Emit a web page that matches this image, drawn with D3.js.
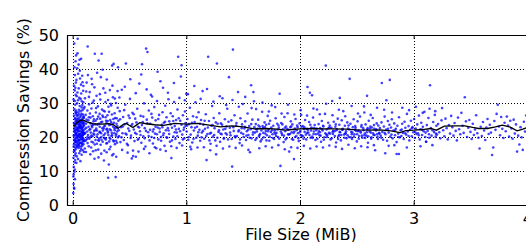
<!DOCTYPE html>
<html>
<head>
<meta charset="utf-8">
<script src="https://cdn.jsdelivr.net/npm/d3@7"></script>
<style>
  body { margin: 0; background: #fff; }
  text { font-family: "DejaVu Sans", sans-serif; fill: #000; }
</style>
</head>
<body>
<div id="chart"></div>
<script>
// axis ticks
const xTicks = [0, 1, 2, 3, 4];
const yTicks = [0, 10, 20, 30, 40, 50];

// scatter: [file size MiB, savings %], grouped by size range
const tinyFiles = [[0.005,3.5],[0.008,6.2],[0.012,5.1],[0.006,8.4],[0.015,9.8],[0.01,11.2],[0.02,7.6],[0.018,12.5],[0.007,13.9],[0.022,14.6],[0.012,15.8],[0.026,16.4],[0.009,17.1],[0.017,18.3],[0.024,19.0],[0.028,17.6],[0.013,20.2],[0.021,21.4],[0.03,19.8],[0.016,22.7],[0.025,23.5],[0.011,24.1],[0.029,22.0],[0.019,25.6],[0.027,26.9],[0.014,28.2],[0.023,29.5],[0.008,31.0],[0.026,32.4],[0.018,33.7],[0.012,35.1],[0.028,36.0],[0.02,38.2],[0.015,40.5],[0.025,42.3],[0.014,47.5],[0.03,44.0],[0.019,30.6],[0.024,27.4],[0.01,20.5],[0.029,21.1],[0.022,18.7],[0.016,16.0],[0.027,24.6],[0.013,26.3],[0.021,13.2],[0.018,10.4],[0.009,9.0],[0.028,23.0],[0.025,20.6],[0.017,22.3],[0.03,27.8],[0.012,19.1],[0.023,34.5],[0.02,21.9],[0.026,15.2],[0.014,4.8],
  [0.032,18.5],[0.035,21.2],[0.038,24.8],[0.041,19.6],[0.044,48.9],[0.046,22.4],[0.049,27.3],[0.052,16.8],[0.055,20.1],[0.058,31.5],[0.061,23.6],[0.064,18.2],[0.067,25.9],[0.07,21.0],[0.073,35.4],[0.076,19.4],[0.079,28.7],[0.082,22.3],[0.085,17.5],[0.088,24.2],[0.091,20.7],[0.094,30.2],[0.097,26.0],[0.1,19.0],
  [0.033,36.8],[0.036,14.3],[0.039,29.9],[0.042,33.1],[0.045,17.7],[0.048,38.6],[0.051,23.0],[0.054,26.7],[0.057,20.9],[0.06,42.7],[0.063,21.8],[0.066,15.9],[0.069,27.6],[0.072,22.9],[0.075,32.8],[0.078,18.1],[0.081,25.3],[0.084,20.4],[0.087,36.1],[0.09,22.8],[0.093,18.9],[0.096,24.7],[0.099,28.4],
  [0.034,25.4],[0.037,19.9],[0.04,40.2],[0.043,22.1],[0.047,30.8],[0.05,18.7],[0.053,34.3],[0.056,24.0],[0.059,19.2],[0.062,29.1],[0.065,37.2],[0.068,20.6],[0.071,26.3],[0.074,16.5],[0.077,23.8],[0.08,30.5],[0.083,21.5],[0.086,27.9],[0.089,19.7],[0.092,33.6],[0.095,21.3],[0.098,25.6],
  [0.031,27.1],[0.036,32.0],[0.04,22.6],[0.045,25.1],[0.05,20.3],[0.055,28.0],[0.06,17.2],[0.065,22.5],[0.07,31.2],[0.075,20.0],[0.08,24.5],[0.085,29.4],[0.09,26.6],[0.095,17.9],[0.1,23.3],
  [0.033,12.4],[0.042,44.6],[0.047,13.5],[0.052,41.3],[0.058,15.2],[0.063,39.5],[0.068,12.9],[0.074,43.0],[0.079,14.8],[0.084,38.0],[0.089,16.1],[0.094,35.0],[0.099,15.6],
  [0.035,23.9],[0.043,26.2],[0.051,21.7],[0.057,24.4],[0.064,20.8],[0.071,23.4],[0.077,26.8],[0.083,19.3],[0.091,22.0],[0.097,21.1],[0.038,17.0],[0.046,19.1],[0.054,22.9],[0.062,25.0],[0.07,18.4],[0.078,21.6],[0.086,23.1],[0.093,25.8],[0.039,20.5],[0.053,18.0],[0.066,24.3],[0.081,20.2],[0.095,19.5],
  [0.011,17.8],[0.019,19.5],[0.027,20.9],[0.034,22.2],[0.041,17.4],[0.048,21.6],[0.056,19.0],[0.063,23.2],[0.071,20.1],[0.079,22.6],[0.087,18.6],[0.094,21.9],[0.015,23.8],[0.023,16.9],[0.031,24.5],[0.039,18.3],[0.047,23.7],[0.055,17.6],[0.061,20.7],[0.069,24.9],[0.076,17.2],[0.084,21.3],[0.092,24.0],[0.099,20.9],[0.013,21.6],[0.021,25.2],[0.029,18.9],[0.037,26.4],[0.044,20.4],[0.052,25.5],[0.059,22.8],[0.067,19.3],[0.074,24.6],[0.082,18.0],[0.09,20.6],[0.097,23.5]];

const smallFiles = [[0.102,24.1],[0.105,18.8],[0.108,31.4],[0.111,21.2],[0.114,26.5],[0.117,15.6],[0.12,22.7],[0.123,36.0],[0.126,19.4],[0.129,27.8],[0.132,46.6],[0.135,20.6],[0.138,24.9],[0.141,17.3],[0.144,29.6],[0.147,22.1],[0.15,33.2],[0.153,19.9],[0.156,25.7],[0.159,21.3],[0.162,16.9],[0.165,28.4],[0.168,23.3],[0.171,35.5],[0.174,20.2],[0.177,26.1],[0.18,18.4],[0.183,24.6],[0.186,30.7],[0.189,21.8],[0.192,13.6],[0.195,44.5],[0.198,23.7],[0.201,19.1],[0.204,27.2],[0.207,22.5],[0.21,32.1],[0.213,18.0],[0.216,25.3],[0.219,20.8],[0.222,29.0],[0.225,16.3],[0.228,42.5],[0.231,23.9],[0.234,19.6],[0.237,26.8],[0.24,21.5],[0.243,31.0],[0.246,17.7],[0.249,24.3],[0.252,20.0],[0.255,44.5],[0.258,28.1],[0.261,22.6],[0.264,18.6],[0.267,25.9],[0.27,34.3],[0.273,20.5],[0.276,23.1],[0.279,16.0],[0.282,27.5],[0.285,21.0],[0.288,30.3],[0.291,19.3],[0.294,24.8],[0.297,22.2],[0.3,36.9],[0.303,18.2],[0.306,26.4],[0.309,21.7],[0.312,8.0],[0.315,28.9],[0.318,11.9],[0.321,23.5],[0.324,19.8],[0.327,33.8],[0.33,25.0],[0.333,17.1],[0.336,22.0],[0.339,29.3],[0.342,20.3],[0.345,26.6],[0.348,14.6],[0.351,23.8],[0.354,31.7],[0.357,19.0],[0.36,41.5],[0.363,24.2],[0.366,21.1],[0.369,27.0],[0.372,17.9],[0.375,22.8],[0.378,8.2],[0.381,30.0],[0.384,20.9],[0.387,25.5],[0.39,18.3],[0.393,23.2],[0.396,28.6],[0.399,40.5],
  [0.104,28.8],[0.11,22.4],[0.116,19.0],[0.122,25.1],[0.128,21.6],[0.134,38.2],[0.14,23.0],[0.146,19.5],[0.152,26.9],[0.158,24.0],[0.164,20.4],[0.17,22.9],[0.176,30.1],[0.182,21.0],[0.188,25.2],[0.194,17.8],[0.2,22.0],[0.206,28.5],[0.212,20.1],[0.218,23.6],[0.224,26.0],[0.23,18.9],[0.236,21.4],[0.242,25.4],[0.248,37.6],[0.254,19.2],[0.26,24.5],[0.266,21.9],[0.272,27.7],[0.278,19.7],[0.284,23.3],[0.29,25.8],[0.296,18.1],[0.302,22.4],[0.308,24.7],[0.314,20.6],[0.32,27.4],[0.326,22.3],[0.332,19.4],[0.338,24.4],[0.344,21.2],[0.35,35.1],[0.356,23.0],[0.362,18.7],[0.368,22.5],[0.374,25.6],[0.38,20.4],[0.386,23.9],[0.392,21.6],[0.398,19.9],
  [0.107,16.6],[0.119,33.4],[0.131,18.2],[0.143,31.8],[0.155,14.9],[0.167,37.1],[0.179,15.8],[0.191,34.6],[0.203,16.1],[0.215,38.9],[0.227,14.0],[0.239,32.6],[0.251,15.1],[0.263,39.8],[0.275,13.1],[0.287,33.0],[0.299,15.5],[0.311,30.9],[0.323,16.4],[0.335,29.8],[0.347,41.0],[0.359,15.0],[0.371,31.3],[0.383,14.2],[0.395,33.5],
  [0.106,21.0],[0.118,23.9],[0.13,20.0],[0.142,25.8],[0.154,22.3],[0.166,18.6],[0.178,23.5],[0.19,20.7],[0.202,24.8],[0.214,21.9],[0.226,19.1],[0.238,23.0],[0.25,21.1],[0.262,26.3],[0.274,22.5],[0.286,19.6],[0.298,24.1],[0.31,21.3],[0.322,18.7],[0.334,23.6],[0.346,20.5],[0.358,25.3],[0.37,22.0],[0.382,18.9],[0.394,22.6],
  [0.402,24.8],[0.408,20.3],[0.414,27.6],[0.42,18.5],[0.426,22.9],[0.432,33.9],[0.438,21.1],[0.444,25.9],[0.45,19.1],[0.456,23.7],[0.462,29.5],[0.468,41.6],[0.474,20.7],[0.48,24.1],[0.486,17.6],[0.492,26.3],[0.498,21.8],[0.504,31.2],[0.51,19.7],[0.516,23.4],[0.52,13.7],[0.526,27.1],[0.532,14.4],[0.538,22.2],[0.544,18.8],[0.55,25.4],[0.556,14.2],[0.562,20.9],[0.568,28.3],[0.574,23.0],[0.58,19.5],[0.586,35.7],[0.592,21.7],[0.598,26.2],[0.604,18.3],[0.61,41.4],[0.616,24.4],[0.622,20.2],[0.628,29.9],[0.634,22.6],[0.64,17.2],[0.646,46.0],[0.652,25.1],[0.658,45.0],[0.664,21.4],[0.67,27.8],[0.676,19.0],[0.682,23.9],[0.688,32.4],[0.694,20.0],[0.7,25.7],[0.706,18.1],[0.712,22.3],[0.718,28.8],[0.724,21.0],[0.73,24.9],[0.736,16.7],[0.742,30.6],[0.748,22.8],[0.754,19.3],[0.76,26.5],[0.766,21.5],[0.772,36.4],[0.778,18.9],[0.784,23.6],[0.79,27.3],[0.796,20.5],[0.802,24.2],[0.808,17.4],[0.814,29.2],[0.82,22.0],[0.826,25.8],[0.832,19.8],[0.838,33.0],[0.844,21.9],[0.85,24.6],[0.856,18.6],[0.862,27.0],[0.868,13.8],[0.874,22.7],[0.88,26.1],[0.886,20.1],[0.892,30.3],[0.898,23.2],[0.904,19.4],[0.91,25.0],[0.916,21.3],[0.922,28.1],[0.928,43.6],[0.934,22.4],[0.94,18.2],[0.946,24.8],[0.952,37.8],[0.958,41.1],[0.964,20.7],[0.97,26.4],[0.976,22.1],[0.982,19.6],[0.988,27.5],[0.994,23.3],[0.999,32.7],
  [0.405,22.0],[0.417,25.2],[0.429,19.9],[0.441,23.1],[0.453,27.9],[0.465,21.0],[0.477,18.0],[0.489,22.5],[0.501,25.6],[0.513,20.4],[0.525,23.8],[0.537,26.7],[0.549,21.2],[0.561,24.3],[0.573,19.2],[0.585,22.8],[0.597,20.6],[0.609,23.5],[0.621,26.0],[0.633,19.6],[0.645,21.8],[0.657,24.0],[0.669,20.3],[0.681,22.1],[0.693,26.8],[0.705,21.6],[0.717,19.7],[0.729,23.0],[0.741,20.8],[0.753,25.3],[0.765,22.5],[0.777,20.0],[0.789,22.9],[0.801,21.1],[0.813,24.5],[0.825,19.9],[0.837,22.6],[0.849,20.9],[0.861,23.7],[0.873,19.0],[0.885,24.7],[0.897,21.4],[0.909,22.2],[0.921,20.2],[0.933,25.5],[0.945,21.7],[0.957,23.6],[0.969,19.3],[0.981,22.8],[0.993,24.1],
  [0.411,31.6],[0.435,16.2],[0.459,34.8],[0.483,15.4],[0.507,37.0],[0.531,16.0],[0.555,32.9],[0.579,15.7],[0.603,38.4],[0.627,16.5],[0.651,34.0],[0.675,15.2],[0.699,31.9],[0.723,17.0],[0.747,39.2],[0.771,16.3],[0.795,34.5],[0.819,15.9],[0.843,31.1],[0.867,17.3],[0.891,35.9],[0.915,16.8],[0.939,31.5],[0.963,17.5],[0.987,30.8]];

const mediumFiles = [[1.003,21.6],[1.01,25.3],[1.017,19.2],[1.024,23.8],[1.031,28.6],[1.038,20.7],[1.045,22.9],[1.052,18.4],[1.059,26.1],[1.066,21.9],[1.073,24.4],[1.08,30.2],[1.087,19.8],[1.094,23.0],[1.101,20.4],[1.108,27.3],[1.115,22.1],[1.122,18.9],[1.129,25.0],[1.136,21.3],[1.143,33.5],[1.15,23.6],[1.157,19.5],[1.164,22.4],[1.171,26.7],[1.178,13.2],[1.185,20.9],[1.192,43.6],[1.199,24.7],[1.206,21.0],[1.213,18.0],[1.22,23.3],[1.227,29.1],[1.234,20.1],[1.241,25.6],[1.248,22.6],[1.255,19.0],[1.262,14.9],[1.269,41.6],[1.276,23.9],[1.283,21.5],[1.29,27.0],[1.297,18.6],[1.304,24.0],[1.311,20.8],[1.318,31.4],[1.325,22.2],[1.332,19.7],[1.339,25.2],[1.346,21.1],[1.353,23.1],[1.36,28.3],[1.367,19.3],[1.375,37.6],[1.382,22.7],[1.389,20.5],[1.396,24.9],[1.403,11.3],[1.41,45.7],[1.417,21.8],[1.424,26.4],[1.431,19.9],[1.438,23.4],[1.445,20.3],[1.455,33.2],[1.462,22.0],[1.469,18.2],[1.476,25.5],[1.483,21.2],[1.49,23.7],[1.497,29.7],[1.504,20.0],[1.511,22.5],[1.518,24.6],[1.525,19.1],[1.532,21.7],[1.539,26.9],[1.546,20.6],[1.553,23.2],[1.56,15.5],[1.567,22.3],[1.574,19.6],[1.581,25.1],[1.588,21.4],[1.595,30.5],
  [1.007,23.4],[1.021,20.0],[1.035,17.1],[1.049,24.2],[1.063,19.4],[1.077,22.7],[1.091,25.8],[1.105,21.4],[1.119,23.9],[1.133,19.9],[1.147,21.8],[1.161,24.8],[1.175,20.3],[1.189,22.8],[1.203,19.0],[1.217,21.2],[1.231,23.5],[1.245,20.6],[1.259,24.3],[1.273,19.8],[1.287,22.0],[1.301,21.0],[1.315,23.6],[1.329,19.5],[1.343,22.4],[1.357,20.7],[1.371,24.5],[1.385,21.3],[1.399,19.4],[1.413,22.9],[1.427,20.2],[1.441,24.1],[1.459,21.6],[1.473,19.3],[1.487,22.6],[1.501,20.9],[1.515,23.0],[1.529,20.4],[1.543,22.1],[1.557,19.8],[1.571,23.8],[1.585,20.7],[1.599,22.9],
  [1.014,32.6],[1.042,16.4],[1.07,35.0],[1.098,16.9],[1.126,31.2],[1.154,17.0],[1.182,34.1],[1.21,16.1],[1.238,30.4],[1.266,17.4],[1.294,32.0],[1.322,16.6],[1.35,29.4],[1.378,17.2],[1.406,30.9],[1.434,16.8],[1.462,28.9],[1.49,17.5],[1.518,31.8],[1.546,16.2],[1.574,28.5],
  [1.604,21.3],[1.611,23.8],[1.618,19.6],[1.625,22.4],[1.632,25.1],[1.639,20.2],[1.646,23.0],[1.653,18.7],[1.66,21.9],[1.667,27.4],[1.674,22.6],[1.681,19.9],[1.688,24.3],[1.695,21.0],[1.702,23.6],[1.709,20.5],[1.716,26.2],[1.723,22.2],[1.73,18.9],[1.737,24.8],[1.744,21.5],[1.751,29.3],[1.758,20.8],[1.765,23.3],[1.772,19.4],[1.779,22.0],[1.786,25.5],[1.793,21.2],[1.8,23.9],[1.807,20.0],[1.814,22.7],[1.821,32.7],[1.828,11.5],[1.835,24.1],[1.842,20.6],[1.849,22.3],[1.856,18.5],[1.863,25.9],[1.87,21.7],[1.877,23.1],[1.884,19.7],[1.891,27.0],[1.898,22.1],[1.905,15.7],[1.912,20.9],[1.919,24.6],[1.926,21.4],[1.933,23.7],[1.94,19.2],[1.947,13.5],[1.954,22.5],[1.961,25.3],[1.968,20.3],[1.975,23.4],[1.982,21.1],[1.989,18.8],[1.996,24.0],[2.003,21.8],[2.01,26.5],[2.017,20.4],[2.024,23.2],[2.031,19.5],[2.038,22.9],[2.045,25.0],[2.052,20.7],[2.059,22.4],[2.066,34.7],[2.073,21.3],[2.08,24.4],[2.087,33.0],[2.094,19.8],[2.101,22.8],[2.108,20.1],[2.115,25.7],[2.122,21.6],[2.129,23.5],[2.136,19.1],[2.143,22.0],[2.15,28.1],[2.157,21.0],[2.164,23.8],[2.171,20.5],[2.178,22.6],[2.185,18.6],[2.192,24.7],[2.199,21.9],[2.206,23.1],[2.213,19.9],[2.22,26.8],[2.227,41.0],[2.234,22.2],[2.241,20.6],[2.248,24.2],[2.255,21.2],[2.262,23.4],[2.269,19.3],[2.276,22.7],[2.283,30.6],[2.29,20.9],[2.297,24.5],[2.304,21.7],[2.311,23.0],[2.318,18.4],[2.325,22.3],[2.332,25.4],[2.339,20.2],[2.346,23.6],[2.353,21.4],[2.36,19.0],[2.367,24.9],[2.374,22.1],[2.381,27.6],[2.388,20.7],[2.395,23.3],[2.402,21.1],[2.409,19.6],[2.416,24.3],[2.423,22.5],[2.43,20.0],[2.437,37.1],[2.444,23.9],[2.451,21.5],[2.458,19.4],[2.465,22.9],[2.472,25.2],[2.479,20.8],[2.486,23.2],[2.493,21.8],[2.5,18.7],[2.507,24.6],[2.514,22.0],[2.521,20.3],[2.528,26.0],[2.535,21.3],[2.542,23.5],[2.549,19.8],[2.556,22.6],[2.563,29.0],[2.57,21.0],[2.577,23.7],[2.584,20.4],[2.591,22.2],[2.598,18.3],[2.605,24.8],[2.612,21.6],[2.619,23.1],[2.626,19.5],[2.633,22.8],[2.64,25.6],[2.647,20.6],[2.654,22.4],[2.661,16.1],[2.668,21.9],[2.675,24.0],[2.682,20.1],[2.689,23.4],[2.696,21.2],
  [1.607,19.1],[1.621,21.6],[1.635,23.4],[1.649,20.9],[1.663,19.3],[1.677,21.2],[1.691,22.9],[1.705,19.0],[1.719,21.7],[1.733,20.1],[1.747,22.8],[1.761,19.7],[1.775,21.3],[1.789,20.3],[1.803,22.2],[1.817,19.5],[1.831,21.6],[1.845,23.7],[1.859,20.4],[1.873,19.3],[1.887,22.4],[1.901,20.7],[1.915,22.9],[1.929,19.4],[1.943,21.2],[1.957,20.0],[1.971,22.0],[1.985,19.6],[1.999,21.4],[2.013,23.0],[2.027,20.2],[2.041,21.5],[2.055,19.3],[2.069,22.1],[2.083,20.6],[2.097,21.9],[2.111,19.7],[2.125,22.6],[2.139,20.8],[2.153,19.5],[2.167,21.7],[2.181,20.4],[2.195,22.3],[2.209,19.2],[2.223,21.1],[2.237,20.0],[2.251,22.6],[2.265,21.0],[2.279,19.6],[2.293,21.8],[2.307,20.3],[2.321,22.0],[2.335,19.4],[2.349,21.5],[2.363,20.6],[2.377,22.4],[2.391,19.8],[2.405,21.7],[2.419,20.5],[2.433,22.2],[2.447,19.9],[2.461,21.3],[2.475,20.1],[2.489,22.7],[2.503,20.8],[2.517,19.5],[2.531,21.6],[2.545,20.4],[2.559,22.0],[2.573,19.7],[2.587,21.4],[2.601,20.2],[2.615,22.5],[2.629,19.9],[2.643,21.1],[2.657,20.6],[2.671,22.3],[2.685,19.4],[2.699,21.0],
  [1.615,22.3],[1.643,20.6],[1.671,23.2],[1.699,21.8],[1.727,23.9],[1.755,22.0],[1.783,20.9],[1.811,23.4],[1.839,21.1],[1.867,22.7],[1.895,20.8],[1.923,23.1],[1.951,21.6],[1.979,22.9],[2.007,20.5],[2.035,22.4],[2.063,21.2],[2.091,23.6],[2.119,20.9],[2.147,22.5],[2.175,21.4],[2.203,23.3],[2.231,20.7],[2.259,22.8],[2.287,21.5],[2.315,23.7],[2.343,20.6],[2.371,22.2],[2.399,21.0],[2.427,23.4],[2.455,20.8],[2.483,22.1],[2.511,21.7],[2.539,23.0],[2.567,20.5],[2.595,22.6],[2.623,21.3],[2.651,23.5],[2.679,20.9],
  [1.614,28.2],[1.642,16.7],[1.67,30.1],[1.698,17.3],[1.726,27.5],[1.754,16.9],[1.782,28.8],[1.81,17.6],[1.838,26.9],[1.866,16.4],[1.894,29.5],[1.922,17.0],[1.95,26.6],[1.978,16.8],[2.006,27.9],[2.034,17.4],[2.062,26.3],[2.09,16.6],[2.118,28.4],[2.146,17.2],[2.174,26.7],[2.202,16.9],[2.23,29.8],[2.258,17.5],[2.286,26.4],[2.314,17.1],[2.342,28.0],[2.37,16.5],[2.398,26.1],[2.426,17.7],[2.454,29.1],[2.482,16.7],[2.51,26.9],[2.538,17.3],[2.566,27.2],[2.594,17.0],[2.622,26.5],[2.65,17.6],[2.678,28.6],[1.57,35.2],[1.59,33.2],[2.106,32.3],[2.35,31.5],[2.59,32.1]];

const largeFiles = [[2.703,22.6],[2.71,20.4],[2.717,24.3],[2.724,21.5],[2.731,19.2],[2.738,23.1],[2.745,26.0],[2.752,20.8],[2.759,22.2],[2.766,18.9],[2.773,24.7],[2.78,21.3],[2.787,23.6],[2.794,20.1],[2.801,22.8],[2.808,25.2],[2.815,19.6],[2.822,21.9],[2.829,24.0],[2.836,20.5],[2.843,22.4],[2.85,18.5],[2.857,23.3],[2.864,21.0],[2.871,25.8],[2.878,19.9],[2.885,22.0],[2.892,20.3],[2.899,23.9],[2.906,21.2],[2.913,19.4],[2.92,24.5],[2.927,22.7],[2.934,20.7],[2.941,26.8],[2.948,21.6],[2.955,23.2],[2.962,19.0],[2.969,22.1],[2.976,24.8],[2.983,20.2],[2.99,22.9],[2.997,21.4],[3.004,25.3],[3.011,19.7],[3.018,22.5],[3.025,20.9],[3.032,23.7],[3.039,21.1],[3.046,26.3],[3.053,19.3],[3.06,22.3],[3.067,24.2],[3.074,20.6],[3.081,23.0],[3.088,21.7],[3.095,27.4],[3.102,20.0],[3.109,18.6],[3.116,23.5],[3.123,21.8],[3.13,25.6],[3.137,19.8],[3.144,35.2],[3.151,22.6],[3.158,20.4],[3.165,17.6],[3.172,24.4],[3.179,21.5],[3.186,26.5],[3.193,20.1],[3.2,23.3],
  [2.72,35.9],[2.79,36.8],[2.76,30.8],[2.75,15.2],[2.85,15.0],[2.87,15.0],[2.83,17.6],[2.74,28.0],[2.81,27.2],[2.9,28.6],[2.96,27.9],[3.02,28.9],[3.08,27.1],[3.14,28.3],[3.19,27.6],[2.78,17.4],[2.94,16.9],[3.06,17.3],[3.11,18.6],[2.715,19.8],[2.745,21.2],[2.775,22.4],[2.805,20.7],[2.835,21.9],[2.865,20.0],[2.895,22.2],[2.925,21.1],[2.955,20.3],[2.985,22.6],[3.015,21.4],[3.045,20.5],[3.075,22.1],[3.105,21.3],[3.135,20.8],[3.165,22.0],[3.195,21.0],
  [3.205,20.7],[3.215,23.8],[3.225,21.4],[3.235,19.6],[3.245,24.9],[3.25,28.5],[3.26,22.0],[3.27,20.2],[3.28,25.4],[3.29,22.6],[3.3,19.3],[3.31,23.5],[3.32,21.0],[3.33,26.2],[3.34,22.9],[3.35,20.4],[3.36,24.1],[3.37,21.8],[3.38,19.0],[3.39,25.7],[3.4,22.3],[3.41,20.8],[3.42,27.1],[3.43,23.3],[3.44,21.2],[3.45,31.7],[3.46,24.6],[3.47,20.0],[3.48,22.7],[3.49,25.0],[3.5,21.5],[3.51,19.4],[3.52,23.9],[3.53,20.6],[3.54,22.2],[3.55,26.4],[3.56,21.1],[3.57,19.8],[3.58,16.6],[3.59,23.0],[3.6,20.3],[3.61,24.4],[3.62,21.9],[3.63,19.1],[3.64,22.8],[3.65,25.3],[3.66,20.9],[3.67,23.6],[3.68,21.3],[3.69,14.7],[3.7,16.9],[3.71,24.7],[3.72,22.1],[3.73,26.8],[3.74,29.5],[3.75,23.1],[3.76,20.5],[3.77,25.9],[3.78,22.4],[3.79,19.7],[3.8,24.2],[3.81,21.7],[3.82,26.0],[3.83,23.4],[3.84,20.1],[3.85,24.8],[3.86,22.5],[3.87,19.5],[3.88,25.1],[3.89,21.0],[3.9,23.7],[3.91,15.7],[3.92,20.4],[3.93,17.8],[3.94,22.9],[3.95,19.9],[3.96,16.2],[3.97,24.5],[3.98,21.6],[3.99,26.3],[4.0,20.7],[4.01,23.2],[4.02,21.3],[4.03,25.0]];

// running mean of savings
const trendSize = [0.01,0.03,0.06,0.09,0.13,0.18,0.25,0.32,0.36,0.40,0.44,0.47,0.50,0.53,0.56,0.59,0.65,0.72,0.80,0.90,1.00,1.10,1.20,1.30,1.40,1.50,1.60,1.70,1.80,1.87,1.93,2.00,2.10,2.20,2.30,2.40,2.50,2.60,2.70,2.80,2.88,2.93,3.00,3.08,3.15,3.20,3.27,3.35,3.45,3.52,3.57,3.65,3.72,3.78,3.85,3.91,3.96,4.02];
const trendSavings = [23.0,24.0,24.8,25.0,24.4,23.9,23.8,23.9,23.6,22.6,23.6,24.0,23.4,22.8,23.5,24.2,23.9,23.6,23.4,24.0,23.8,24.0,23.5,23.0,23.3,23.0,22.4,22.5,22.3,22.0,22.2,22.4,22.5,22.4,22.4,22.3,22.1,22.0,22.1,21.8,21.3,21.9,22.0,22.2,22.5,22.0,23.2,23.3,23.3,22.8,22.5,22.5,23.0,23.5,22.9,21.8,22.3,23.0];

const W = 526, H = 242;
const margin = { top: 35, right: -7, bottom: 37, left: 67 };
const iw = W - margin.left - margin.right;
const ih = H - margin.top - margin.bottom;

const x = d3.scaleLinear().domain([-0.05, 4.05]).range([0, iw]);
const y = d3.scaleLinear().domain([0, 50]).range([ih, 0]);
const crisp = v => Math.round(v) + 0.5;

const svg = d3.select('#chart').append('svg')
  .attr('width', W)
  .attr('height', H);

svg.append('defs').append('clipPath').attr('id', 'plot-clip')
  .append('rect').attr('width', iw).attr('height', ih);

const g = svg.append('g').attr('transform', `translate(${margin.left},${margin.top})`);

// dotted grid
g.append('g').selectAll('line')
  .data(xTicks)
  .join('line')
  .attr('x1', d => crisp(x(d))).attr('x2', d => crisp(x(d)))
  .attr('y1', 0).attr('y2', ih)
  .attr('stroke', '#000').attr('stroke-width', 1)
  .attr('stroke-dasharray', '1,2');
g.append('g').selectAll('line')
  .data(yTicks.filter(d => d > 0 && d < 50))
  .join('line')
  .attr('x1', 0).attr('x2', iw)
  .attr('y1', d => crisp(y(d))).attr('y2', d => crisp(y(d)))
  .attr('stroke', '#000').attr('stroke-width', 1)
  .attr('stroke-dasharray', '1,2');

const points = tinyFiles.concat(smallFiles, mediumFiles, largeFiles);
const plot = g.append('g').attr('clip-path', 'url(#plot-clip)');

plot.append('g').selectAll('circle')
  .data(points)
  .join('circle')
  .attr('cx', d => x(d[0]))
  .attr('cy', d => y(d[1]))
  .attr('r', 1.3)
  .attr('fill', '#0000ff')
  .attr('fill-opacity', 0.75);

const line = d3.line()
  .x((d, i) => x(trendSize[i]))
  .y(d => y(d));
plot.append('path')
  .datum(trendSavings)
  .attr('d', line)
  .attr('fill', 'none')
  .attr('stroke', '#000')
  .attr('stroke-width', 1.3);

// axes with inward ticks on all sides, matplotlib style
const tickLen = -4;
const fmt = d3.format('d');
const xAxis = g.append('g').attr('transform', `translate(0,${ih})`)
  .call(d3.axisBottom(x).tickValues(xTicks).tickFormat(fmt).tickSizeInner(tickLen).tickSizeOuter(0).tickPadding(8));
const xTop = g.append('g')
  .call(d3.axisTop(x).tickValues(xTicks).tickFormat('').tickSizeInner(tickLen).tickSizeOuter(0));
const yAxis = g.append('g')
  .call(d3.axisLeft(y).tickValues(yTicks).tickFormat(fmt).tickSizeInner(tickLen).tickSizeOuter(0).tickPadding(8));
const yRight = g.append('g').attr('transform', `translate(${iw},0)`)
  .call(d3.axisRight(y).tickValues(yTicks).tickFormat('').tickSizeInner(tickLen).tickSizeOuter(0));

[xAxis, xTop, yAxis, yRight].forEach(a => {
  a.select('.domain').attr('stroke', '#000').attr('stroke-width', 1.2);
  a.selectAll('.tick line').attr('stroke', '#000').attr('stroke-width', 1);
  a.selectAll('text').attr('font-family', '"DejaVu Sans", sans-serif').attr('font-size', 16).attr('fill', '#000');
});

g.append('text')
  .attr('x', x(2) + 1)
  .attr('y', ih + 35)
  .attr('text-anchor', 'middle')
  .attr('font-size', 16)
  .text('File Size (MiB)');

g.append('text')
  .attr('transform', `translate(${29 - margin.left},${ih / 2}) rotate(-90)`)
  .attr('text-anchor', 'middle')
  .attr('font-size', 16)
  .text('Compression Savings (%)');
</script>
</body>
</html>
